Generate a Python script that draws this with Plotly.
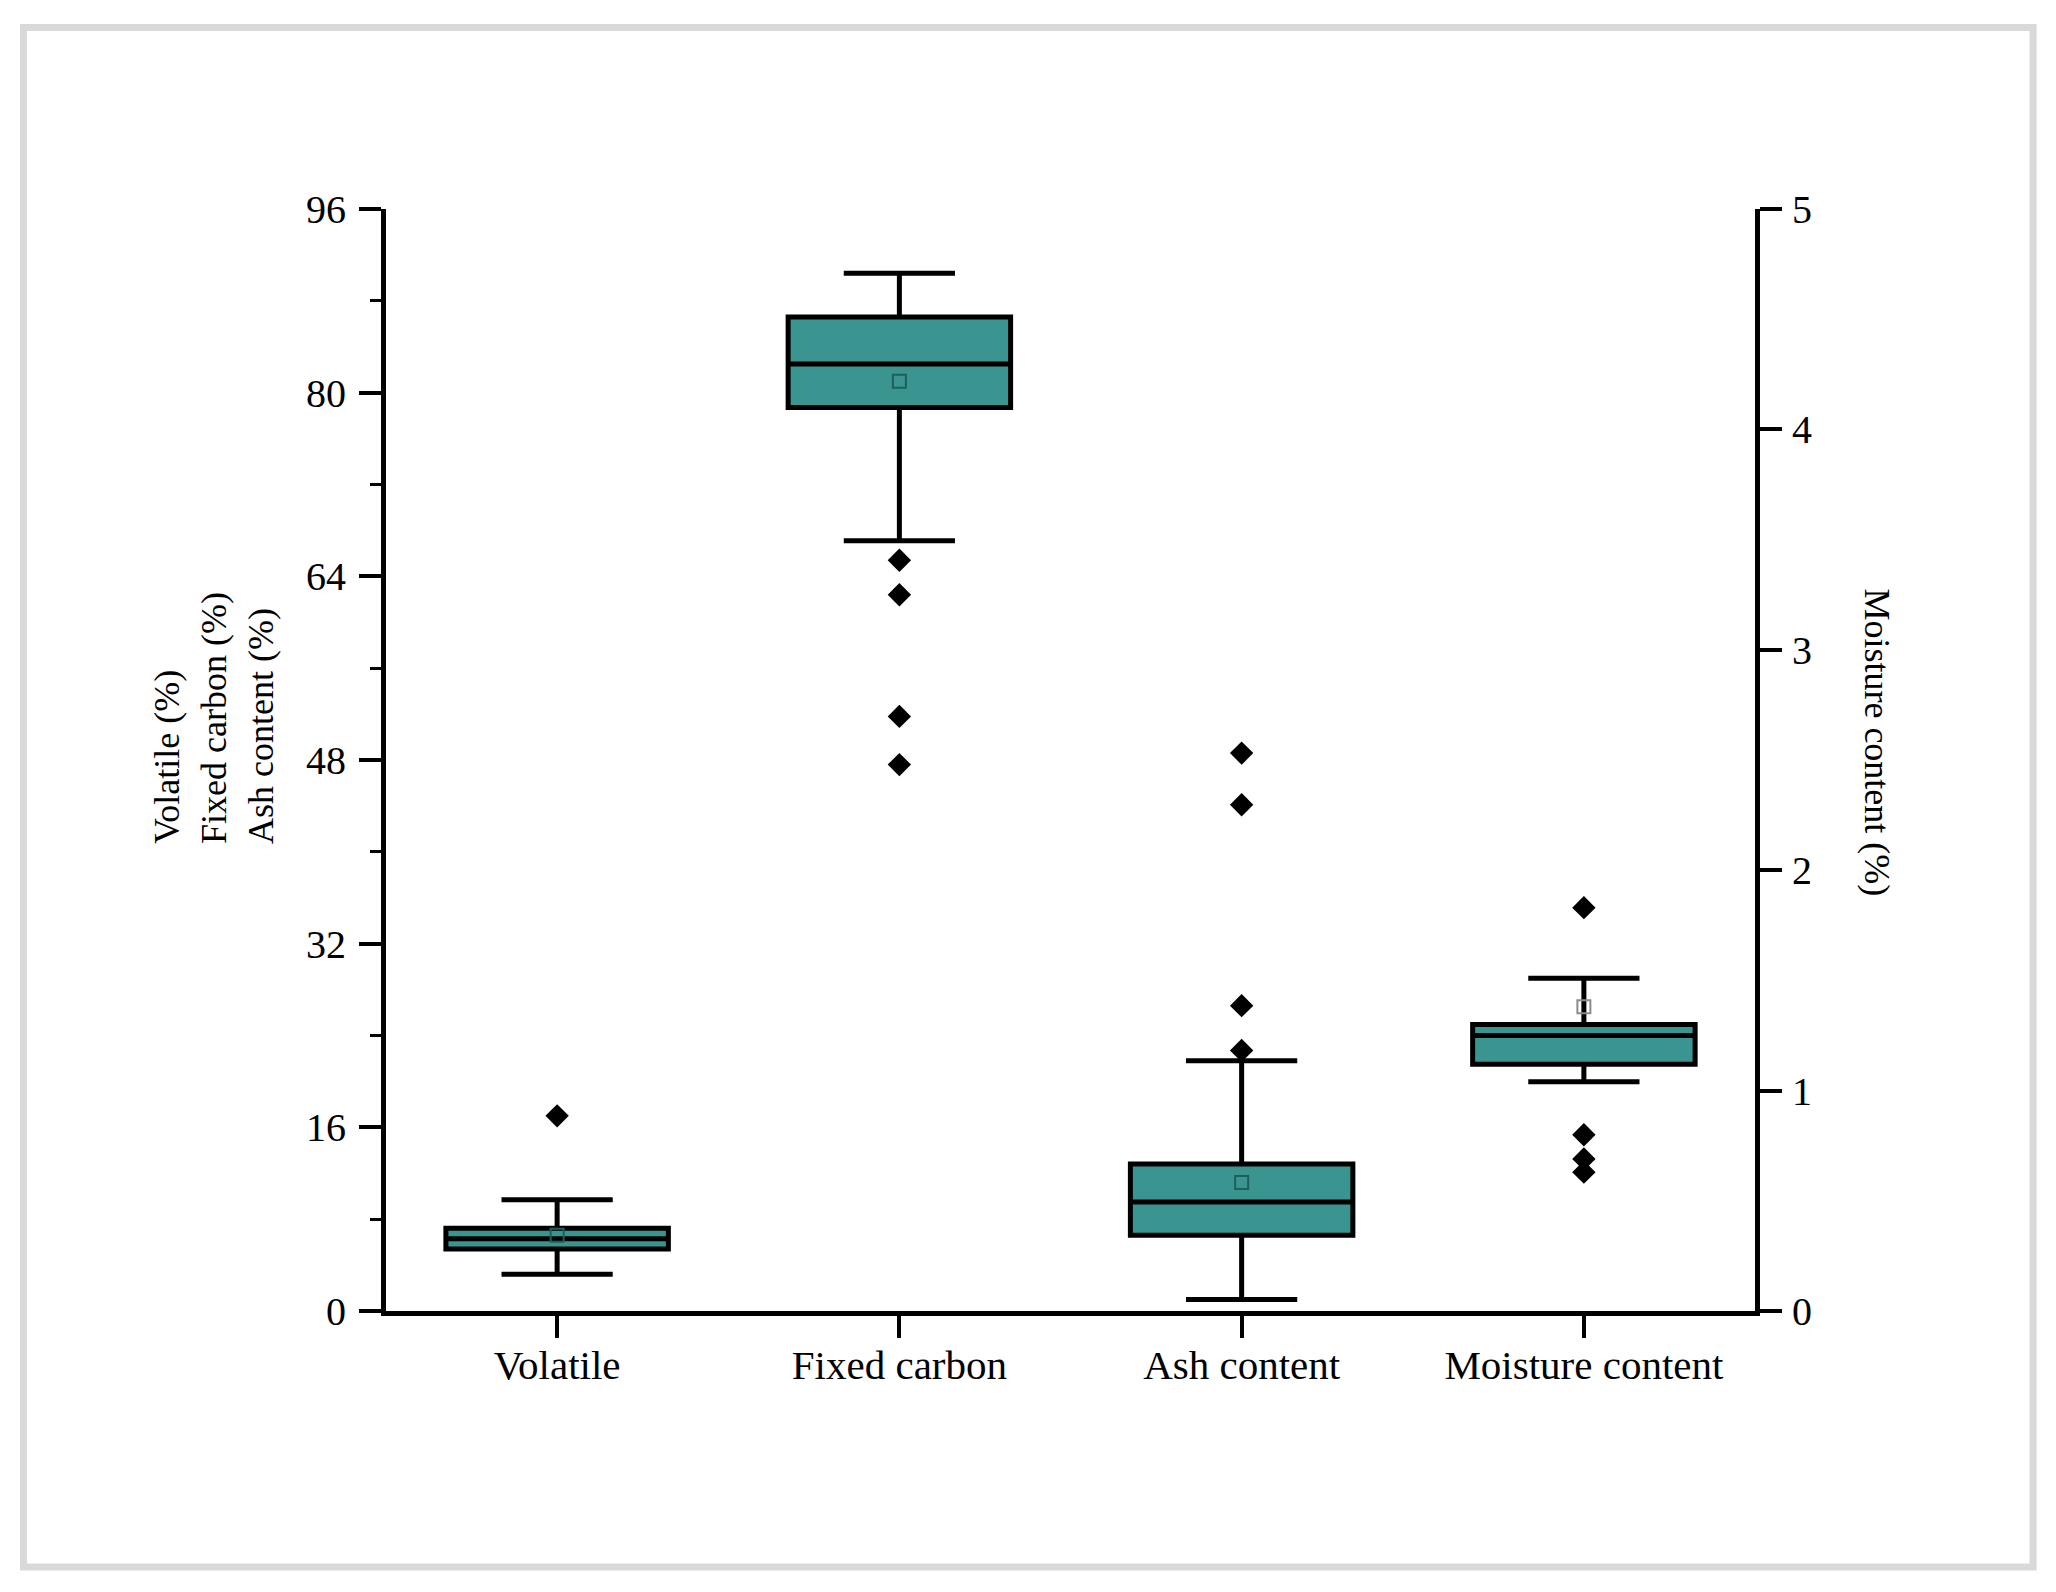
"""
Proximate analysis box plot: volatile, fixed carbon and ash content on the
left axis, moisture content on a secondary right axis.
"""

import plotly.graph_objects as go

# ---------------------------------------------
# Data
# ---------------------------------------------
CATEGORIES = ["Volatile", "Fixed carbon", "Ash content", "Moisture content"]

# left axis (%) : Volatile, Fixed carbon, Ash content
LEFT_CATS = CATEGORIES[:3]
LEFT_LOWER = [3.2, 67.1, 1.0]
LEFT_Q1 = [5.4, 78.7, 6.6]
LEFT_MEDIAN = [6.3, 82.5, 9.5]
LEFT_Q3 = [7.2, 86.6, 12.8]
LEFT_UPPER = [9.7, 90.4, 21.8]
LEFT_MEAN = [6.6, 81.0, 11.2]
LEFT_OUTLIERS = [
    [17.0],
    [65.4, 62.4, 51.8, 47.6],
    [48.6, 44.1, 26.6, 22.7],
]

# right axis (%) : Moisture content
RIGHT_CATS = CATEGORIES[3:]
RIGHT_LOWER = [1.04]
RIGHT_Q1 = [1.12]
RIGHT_MEDIAN = [1.25]
RIGHT_Q3 = [1.30]
RIGHT_UPPER = [1.51]
RIGHT_MEAN = [1.38]
RIGHT_OUTLIERS = [[1.83, 0.80, 0.69, 0.63]]

LEFT_TICKS = [0, 16, 32, 48, 64, 80, 96]
RIGHT_TICKS = [0, 1, 2, 3, 4, 5]

FILL = "#3a9490"
FONT = "Liberation Serif"


def flatten(cats, groups):
    xs, ys = [], []
    for c, vals in zip(cats, groups):
        xs += [c] * len(vals)
        ys += vals
    return xs, ys


fig = go.Figure()

box_style = dict(
    fillcolor=FILL,
    line=dict(color="black", width=5),
    width=0.65,
    whiskerwidth=0.5,
    boxpoints=False,
    showlegend=False,
)

fig.add_trace(go.Box(
    x=LEFT_CATS, q1=LEFT_Q1, median=LEFT_MEDIAN, q3=LEFT_Q3,
    lowerfence=LEFT_LOWER, upperfence=LEFT_UPPER, yaxis="y", **box_style
))
fig.add_trace(go.Box(
    x=RIGHT_CATS, q1=RIGHT_Q1, median=RIGHT_MEDIAN, q3=RIGHT_Q3,
    lowerfence=RIGHT_LOWER, upperfence=RIGHT_UPPER, yaxis="y2", **box_style
))

# outliers
ox, oy = flatten(LEFT_CATS, LEFT_OUTLIERS)
fig.add_trace(go.Scatter(
    x=ox, y=oy, mode="markers", yaxis="y", showlegend=False,
    marker=dict(symbol="diamond", size=18, color="black"),
))
ox2, oy2 = flatten(RIGHT_CATS, RIGHT_OUTLIERS)
fig.add_trace(go.Scatter(
    x=ox2, y=oy2, mode="markers", yaxis="y2", showlegend=False,
    marker=dict(symbol="diamond", size=18, color="black"),
))

# means
fig.add_trace(go.Scatter(
    x=LEFT_CATS, y=LEFT_MEAN, mode="markers", yaxis="y", showlegend=False,
    marker=dict(symbol="square-open", size=13, color="#1d5f5c",
                line=dict(width=2)),
))
fig.add_trace(go.Scatter(
    x=RIGHT_CATS, y=RIGHT_MEAN, mode="markers", yaxis="y2", showlegend=False,
    marker=dict(symbol="square-open", size=13, color="#8c8c8c",
                line=dict(width=2)),
))

axis_common = dict(
    showline=True, linecolor="black", linewidth=5,
    ticks="outside", tickcolor="black", tickwidth=4, ticklen=22,
    showgrid=False, zeroline=False,
)
tick_font = dict(family=FONT, size=40, color="black")

fig.update_layout(
    width=2048,
    height=1584,
    margin=dict(l=378, r=301, t=201, b=281),
    paper_bgcolor="white",
    plot_bgcolor="white",
    font=dict(family=FONT, color="black"),
    boxmode="overlay",
    xaxis=dict(
        type="category", categoryorder="array", categoryarray=CATEGORIES,
        range=[-0.5, 3.5], ticklabelstandoff=-8,
        tickfont=dict(family=FONT, size=41, color="black"),
        **axis_common,
    ),
    yaxis=dict(
        range=[0, 96], tickvals=LEFT_TICKS, ticklabelstandoff=5,
        tickfont=tick_font,
        minor=dict(ticks="outside", ticklen=11, tickwidth=3,
                   tickcolor="black", dtick=8, tick0=0),
        **axis_common,
    ),
    yaxis2=dict(
        range=[0, 5], tickvals=RIGHT_TICKS, overlaying="y", side="right",
        ticklabelstandoff=2, tickfont=tick_font, **axis_common,
    ),
    annotations=[
        dict(
            text="Volatile (%)<br>Fixed carbon (%)<br>Ash content (%)",
            xref="paper", yref="paper", x=-0.1256, y=0.422,
            xanchor="center", yanchor="bottom", textangle=-90, align="left",
            showarrow=False, font=dict(family=FONT, size=36, color="black"),
        ),
        dict(
            text="Moisture content (%)",
            xref="paper", yref="paper", x=1.0891, y=0.516,
            xanchor="center", yanchor="middle", textangle=90,
            showarrow=False, font=dict(family=FONT, size=36, color="black"),
        ),
    ],
    shapes=[
        dict(
            type="rect", xref="paper", yref="paper",
            x0=-0.2648, x1=1.2031, y0=-0.2323, y1=1.1647,
            line=dict(color="#d9d9d9", width=7), layer="below",
        ),
    ],
)

fig.write_html("out.html")
